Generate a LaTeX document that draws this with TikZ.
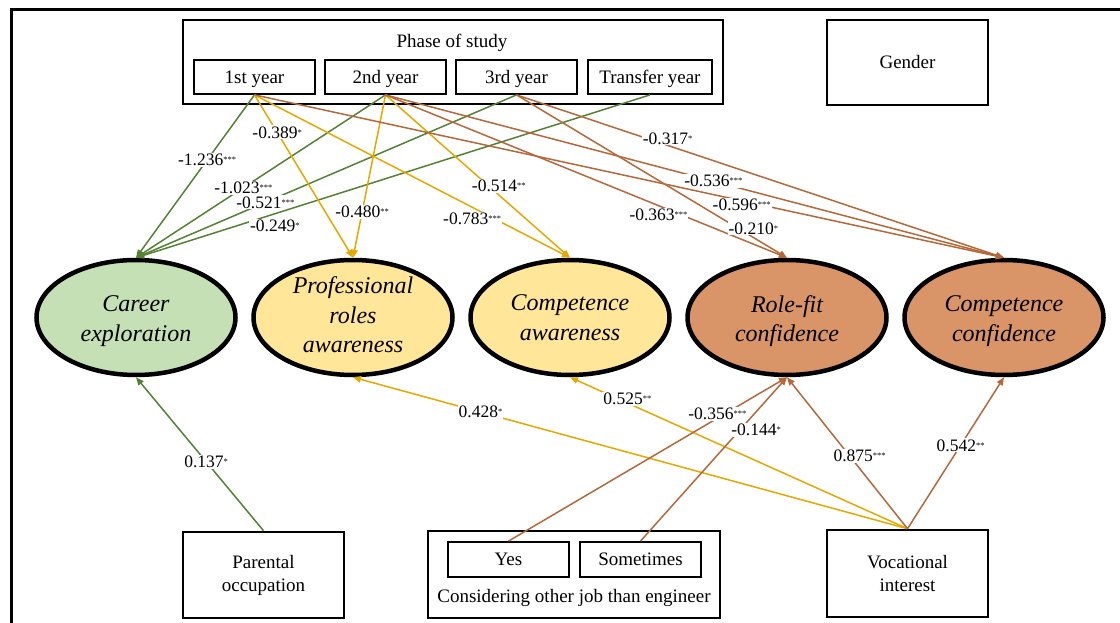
\documentclass[tikz,border=0pt]{standalone}
\usepackage{fontspec}
\setmainfont{Liberation Serif}
\usetikzlibrary{arrows.meta,shapes.geometric}
\definecolor{gline}{HTML}{548235}
\definecolor{yline}{HTML}{E6A800}
\definecolor{bline}{HTML}{B5693A}
\definecolor{gfill}{HTML}{C5E0B4}
\definecolor{yfill}{HTML}{FFE699}
\definecolor{ofill}{HTML}{D99467}
\newcommand{\sg}[1]{\raisebox{3pt}{\fontsize{8.5}{8.5}\selectfont #1}}
\begin{document}
\begin{tikzpicture}[x=1pt,y=-1pt,
  bigbox/.style={draw, rectangle, inner sep=0pt, line width=2.6pt, align=center, font=\fontsize{19}{23}\selectfont},
  subbox/.style={draw, rectangle, inner sep=0pt, line width=1.8pt, minimum height=34pt, font=\fontsize{19}{23}\selectfont},
  yearbox/.style={subbox, text depth=0pt},
  plain/.style={inner sep=0pt, align=center, font=\fontsize{19}{23}\selectfont},
  lat/.style={draw, ellipse, inner sep=0pt, line width=4.5pt, minimum width=199pt, minimum height=115pt},
  lattext/.style={inner sep=0pt, align=center, font=\fontsize{24}{29.5}\selectfont\itshape},
  lbl/.style={fill=white, inner sep=1pt, font=\fontsize{17.5}{17.5}\selectfont},
  conn/.style={line width=1.5pt, -{Triangle[length=8pt,width=6.5pt]}},
  gpath/.style={conn, draw=gline, fill=gline},
  ypath/.style={conn, draw=yline, fill=yline},
  bpath/.style={conn, draw=bline, fill=bline}]
\useasboundingbox (0,0) rectangle (1120,623);
% outer frame
\draw[line width=3pt] (11.5,640) -- (11.5,9.5) -- (1135,9.5);

% Phase of study
\node[bigbox, minimum width=540pt, minimum height=84pt] (phase) at (453,62) {};
\node[plain] (phasetitle) at (452,43) {Phase of study};
\node[yearbox, minimum width=121pt] (y1) at (254.5,77) {1st year};
\node[yearbox, minimum width=121pt] (y2) at (385.5,77) {2nd year};
\node[yearbox, minimum width=121pt] (y3) at (516.5,77) {3rd year};
\node[yearbox, minimum width=124pt] (ty) at (650,77) {Transfer year};

% Gender
\node[bigbox, line width=2.2pt, minimum width=161pt, minimum height=85pt] (gender) at (907.5,62.5) {Gender};

% latent variables
\node[lat, fill=gfill] (CE) at (136,317.5) {};
\node[lat, fill=yfill] (PR) at (353,317.5) {};
\node[lat, fill=yfill] (CA) at (570,317.5) {};
\node[lat, fill=ofill] (RF) at (787,317.5) {};
\node[lat, fill=ofill] (CC) at (1004,317.5) {};

% bottom boxes
\node[bigbox, minimum width=161pt, minimum height=86pt] (PO) at (263.5,575) {Parental\\occupation};
\node[bigbox, minimum width=292pt, minimum height=87pt] (consider) at (574,574.5) {};
\node[subbox, minimum width=121pt, minimum height=35pt] (yes) at (508.5,559.5) {Yes};
\node[subbox, minimum width=121pt, minimum height=35pt] (some) at (640.5,559.5) {Sometimes};
\node[plain] (considertext) at (574,598) {Considering other job than engineer};
\node[bigbox, minimum width=161pt, minimum height=87pt] (VI) at (907.5,573.5) {Vocational\\interest};

% top paths: green
\draw[gpath] (y1.south) -- node[lbl,pos=0.40]{-1.236\sg{***}} (CE.north);
\draw[gpath] (y2.south) -- node[lbl,pos=0.57]{-1.023\sg{***}} (CE.north);
\draw[gpath] (y3.south) -- node[lbl,pos=0.66]{-0.521\sg{***}} (CE.north);
\draw[gpath] (ty.south) -- node[lbl,pos=0.73,yshift=-12pt]{-0.249\sg{*}} (CE.north);
% yellow
\draw[ypath] (y1.south) -- node[lbl,pos=0.23]{-0.389\sg{*}} (PR.north);
\draw[ypath] (y2.south) -- node[lbl,pos=0.72]{-0.480\sg{**}} (PR.north);
\draw[ypath] (y1.south) -- node[lbl,pos=0.69,yshift=-12pt]{-0.783\sg{***}} (CA.north);
\draw[ypath] (y2.south) -- node[lbl,pos=0.56,xshift=10pt]{-0.514\sg{**}} (CA.north);
% brown
\draw[bpath] (y3.south) -- node[lbl,pos=0.31,yshift=7pt]{-0.317\sg{*}} (CC.north);
\draw[bpath] (y2.south) -- node[lbl,pos=0.53]{-0.536\sg{***}} (CC.north);
\draw[bpath] (y1.south) -- node[lbl,pos=0.65,yshift=-4pt]{-0.596\sg{***}} (CC.north);
\draw[bpath] (y2.south) -- node[lbl,pos=0.68,yshift=-9pt]{-0.363\sg{***}} (RF.north);
\draw[bpath] (y3.south) -- node[lbl,pos=0.82,xshift=15pt]{-0.210\sg{*}} (RF.north);

% bottom paths
\draw[gpath] (PO.north) -- node[lbl,pos=0.45]{0.137\sg{*}} (CE.south);
\draw[ypath] (VI.north) -- node[lbl,pos=0.77]{0.428\sg{*}} (PR.south);
\draw[ypath] (VI.north) -- node[lbl,pos=0.83,yshift=4pt]{0.525\sg{**}} (CA.south);
\draw[bpath] (yes.north) -- node[lbl,pos=0.75,yshift=4pt]{-0.356\sg{***}} (RF.south);
\draw[bpath] (some.north) -- node[lbl,pos=0.68,xshift=16pt]{-0.144\sg{*}} (RF.south);
\draw[bpath] (VI.north) -- node[lbl,pos=0.48,xshift=10pt]{0.875\sg{***}} (RF.south);
\draw[bpath] (VI.north) -- node[lbl,pos=0.55]{0.542\sg{**}} (CC.south);

% latent texts
\node[lattext] (CEt) at (136,321) {Career\\exploration};
\node[lattext] (PRt) at (353,315) {Professional\\roles\\awareness};
\node[lattext] (CAt) at (570,317.5) {Competence\\awareness};
\node[lattext] (RFt) at (787,321) {Role-fit\\confidence};
\node[lattext] (CCt) at (1004,321) {Competence\\confidence};
\end{tikzpicture}
\end{document}
